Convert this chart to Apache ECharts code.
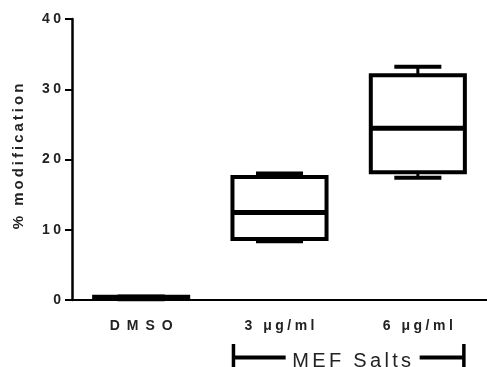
<!DOCTYPE html>
<html>
<head>
<meta charset="utf-8">
<script src="https://cdn.jsdelivr.net/npm/echarts@6/dist/echarts.min.js"></script>
<style>
  html, body { margin: 0; padding: 0; background: #fff; }
  #chart { width: 487px; height: 367px; }
</style>
</head>
<body>
<div id="chart"></div>
<script>
// Groups on the x axis
const categories = ['DMSO', '3 μg/ml', '6 μg/ml'];
// Box-and-whisker summaries per group (% modification)
const whiskerLow  = [0.1, 8.35, 17.4];
const quartile1   = [0.15, 8.7, 18.2];
const medians     = [0.3, 12.44, 24.45];
const quartile3   = [0.45, 17.5, 32.0];
const whiskerHigh = [0.5, 18.0, 33.2];
// Value axis ticks
const yTicks = [0, 10, 20, 30, 40];
const bracketLabel = 'MEF Salts';

const FONT = '"Liberation Sans", Arial, sans-serif';
const INK = '#222';

// widen tracking by slipping a narrow space between characters
function spaced(str, gap) {
  return Array.from(str).join(gap);
}

const boxData = categories.map((c, i) =>
  [i, whiskerLow[i], quartile1[i], medians[i], quartile3[i], whiskerHigh[i]]);

const BOX_FRACTION = 0.68;

function renderBox(params, api) {
  const idx = api.value(0);
  const band = api.size([1, 0])[0];
  const half = band * BOX_FRACTION / 2;
  const capHalf = half / 2;
  const x = api.coord([idx, 0])[0];
  const y = v => api.coord([idx, v])[1];
  const lo = y(api.value(1)), q1 = y(api.value(2)), md = y(api.value(3)),
        q3 = y(api.value(4)), hi = y(api.value(5));
  return {
    type: 'group',
    children: [
      { type: 'line', shape: { x1: x, y1: q3, x2: x, y2: hi }, style: { stroke: '#000', lineWidth: 3 } },
      { type: 'line', shape: { x1: x, y1: q1, x2: x, y2: lo }, style: { stroke: '#000', lineWidth: 3 } },
      { type: 'line', shape: { x1: x - capHalf, y1: hi, x2: x + capHalf, y2: hi }, style: { stroke: '#000', lineWidth: 4 } },
      { type: 'line', shape: { x1: x - capHalf, y1: lo, x2: x + capHalf, y2: lo }, style: { stroke: '#000', lineWidth: 4 } },
      { type: 'rect', shape: { x: x - half, y: q3, width: half * 2, height: q1 - q3 }, style: { stroke: '#000', fill: '#fff', lineWidth: 4 } },
      { type: 'line', shape: { x1: x - half, y1: md, x2: x + half, y2: md }, style: { stroke: '#000', lineWidth: 5 } }
    ]
  };
}

const chart = echarts.init(document.getElementById('chart'), null, { renderer: 'canvas' });

chart.setOption({
  animation: false,
  backgroundColor: '#fff',
  grid: { left: 72, right: -6, top: 19, bottom: 67, containLabel: false },
  xAxis: {
    type: 'category',
    data: categories,
    axisLine: { lineStyle: { color: '#000', width: 2 } },
    axisTick: { alignWithLabel: true, length: 7, lineStyle: { color: '#000', width: 2 } },
    axisLabel: {
      margin: 19,
      color: INK,
      fontFamily: FONT,
      fontWeight: 'bold',
      fontSize: 14,
      formatter: v => v === 'DMSO' ? spaced(v, '\u2002') : spaced(v, '\u2005')
    },
    splitLine: { show: false }
  },
  yAxis: {
    type: 'value',
    min: yTicks[0],
    max: yTicks[yTicks.length - 1],
    interval: yTicks[1] - yTicks[0],
    name: spaced('% modification', '\u2009'),
    nameLocation: 'middle',
    nameGap: 46,
    nameTextStyle: { color: INK, fontFamily: FONT, fontWeight: 'bold', fontSize: 15, padding: [0, 0, 0, 6] },
    axisLine: { show: true, lineStyle: { color: '#000', width: 2.5 } },
    axisTick: { show: true, length: 7, lineStyle: { color: '#000', width: 2 } },
    axisLabel: {
      margin: 11,
      color: INK,
      fontFamily: FONT,
      fontWeight: 'bold',
      fontSize: 14,
      formatter: v => spaced(String(v), '\u2005')
    },
    splitLine: { show: false }
  },
  series: [{
    type: 'custom',
    renderItem: renderBox,
    encode: { x: 0, y: [1, 2, 3, 4, 5] },
    data: boxData,
    z: 3
  }]
});

// bracket under the two MEF salt groups
function drawBracket() {
  const a = chart.convertToPixel({ xAxisIndex: 0 }, categories[1]);
  const b = chart.convertToPixel({ xAxisIndex: 0 }, categories[2]);
  const half = (b - a) * BOX_FRACTION / 2;
  const left = a - half + 1;
  const right = b + half - 1;
  const mid = (a + b) / 2 + 3;
  const lineY = 357.5;
  const lineStyle = { stroke: '#000', lineWidth: 4 };
  chart.setOption({
    graphic: [
      { type: 'line', silent: true, shape: { x1: left, y1: lineY, x2: mid - 66, y2: lineY }, style: lineStyle },
      { type: 'line', silent: true, shape: { x1: mid + 68, y1: lineY, x2: right, y2: lineY }, style: lineStyle },
      { type: 'line', silent: true, shape: { x1: left, y1: 344, x2: left, y2: 372 }, style: { stroke: '#000', lineWidth: 3.5 } },
      { type: 'line', silent: true, shape: { x1: right, y1: 344, x2: right, y2: 372 }, style: { stroke: '#000', lineWidth: 3.5 } },
      {
        type: 'text', silent: true, x: mid, y: 371,
        style: {
          text: spaced(bracketLabel, '\u2006'),
          fill: INK,
          font: '20px ' + FONT,
          textAlign: 'center',
          textVerticalAlign: 'bottom'
        }
      }
    ]
  });
}
drawBracket();
</script>
</body>
</html>
